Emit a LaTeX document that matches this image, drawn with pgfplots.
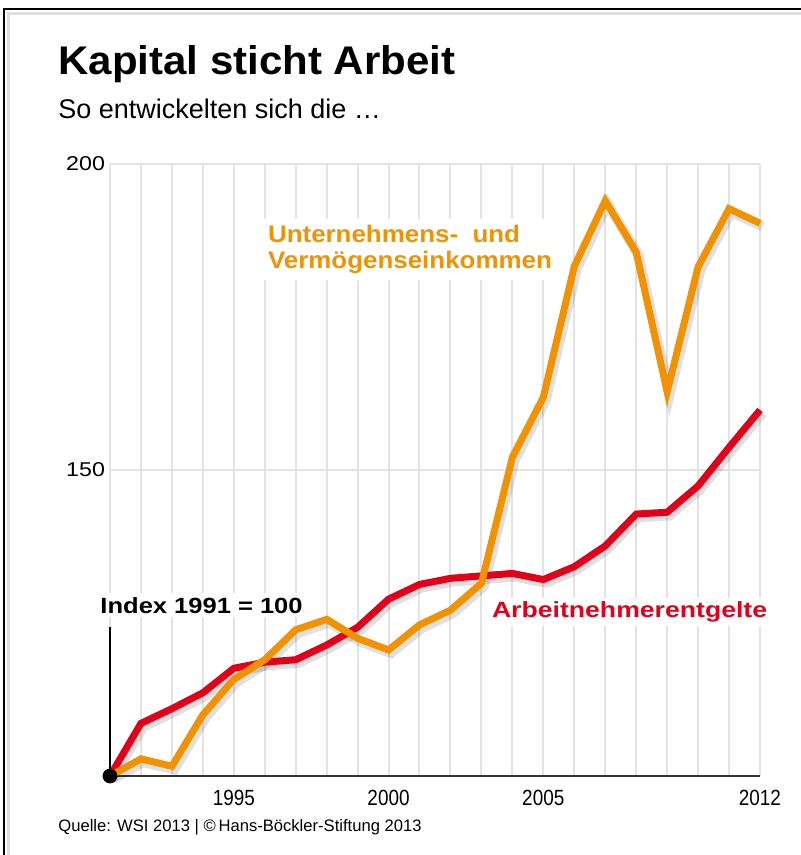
\documentclass[border=0pt]{standalone}
\usepackage{pgfplots}
\pgfplotsset{compat=1.18}
\usepackage{fontspec}
\setmainfont{Liberation Sans}
\newfontfamily\titlefont[FakeStretch=1.05]{Liberation Sans}
\newfontfamily\condfont[FakeStretch=0.86]{Liberation Sans}
\newfontfamily\widefont[FakeStretch=1.16]{Liberation Sans}
\newfontfamily\widerfont[FakeStretch=1.21]{Liberation Sans}
\newfontfamily\medfont[FakeStretch=1.08]{Liberation Sans}
\definecolor{wsiorange}{HTML}{F39200}
\definecolor{wsired}{HTML}{E2001A}
\definecolor{gridgray}{HTML}{E3E3E3}
\begin{document}
\begin{tikzpicture}
\useasboundingbox (-55pt,-39.5pt) rectangle (345.5pt,388pt);
\fill[white] (-55pt,-39.5pt) rectangle (345.5pt,388pt);
\draw[gray!25, line width=1.5pt] (-50.5pt,-39.5pt) -- (-50.5pt,381pt) -- (345.5pt,381pt);
\draw[black, line width=1pt] (-53pt,-39.5pt) -- (-53pt,383.5pt) -- (345.5pt,383.5pt);
\begin{axis}[
  at={(0,0)}, anchor=south west,
  scale only axis, width=325pt, height=306pt,
  xmin=1991, xmax=2012, ymin=100, ymax=200,
  axis line style={draw=none},
  xtick={1991,...,2012},
  xticklabels={,,,,1995,,,,,2000,,,,,2005,,,,,,,2012},
  ytick={150,200},
  major tick length=0pt,
  xmajorgrids, ymajorgrids,
  grid style={gridgray, line width=1pt},
  xticklabel style={font=\condfont\fontsize{11}{13}\selectfont, yshift=-3.3pt},
  yticklabel style={font=\widefont\fontsize{10}{12}\selectfont, xshift=1pt},
  /pgf/number format/assume math mode=true,
  /pgf/number format/1000 sep={},
  clip=false,
]
\draw[black!80, line width=1pt] (axis cs:1991,100) -- (axis cs:2012,100);
\draw[black, line width=0.8pt] (axis cs:1991,100) -- (axis cs:1991,124.3);
\node[fill=white, inner sep=2pt, anchor=west, font=\widefont\bfseries\fontsize{11}{13}\selectfont] at (axis cs:1990.55,127.9) {Index 1991 = 100};
\node[fill=white, inner sep=3pt, anchor=west, align=left, font=\medfont\bfseries\fontsize{12}{13}\selectfont, text=wsiorange] at (axis cs:1995.9,186) {Unternehmens-\ \ und\\Vermögenseinkommen};
\node[fill=white, inner sep=2pt, anchor=west, font=\widerfont\bfseries\fontsize{11}{13}\selectfont, text=wsired] at (axis cs:2003.2,126.8) {Arbeitnehmerentgelte};
% shadows
\addplot[black, opacity=0.12, line width=5pt, xshift=1.2pt, yshift=-1.6pt] coordinates {
(1991,100) (1992,108.6) (1993,111) (1994,113.6) (1995,117.6) (1996,118.6) (1997,119) (1998,121.4) (1999,124.3) (2000,128.9) (2001,131.3) (2002,132.3) (2003,132.7) (2004,133.1) (2005,132.1) (2006,134.2) (2007,137.6) (2008,142.8) (2009,143.1) (2010,147.4) (2011,153.7) (2012,159.8)};
\addplot[black, opacity=0.12, line width=5pt, xshift=1.2pt, yshift=-1.6pt] coordinates {
(1991,100) (1992,102.8) (1993,101.6) (1994,110) (1995,115.8) (1996,119) (1997,123.9) (1998,125.6) (1999,122.5) (2000,120.6) (2001,124.7) (2002,127.1) (2003,131.5) (2004,152.1) (2005,161.9) (2006,183.3) (2007,194) (2008,185.6) (2009,162.8) (2010,183.2) (2011,192.7) (2012,190.3)};
% Arbeitnehmerentgelte
\addplot[wsired, line width=3.5pt] coordinates {
(1991,100) (1992,108.6) (1993,111) (1994,113.6) (1995,117.6) (1996,118.6) (1997,119) (1998,121.4) (1999,124.3) (2000,128.9) (2001,131.3) (2002,132.3) (2003,132.7) (2004,133.1) (2005,132.1) (2006,134.2) (2007,137.6) (2008,142.8) (2009,143.1) (2010,147.4) (2011,153.7) (2012,159.8)};
% Unternehmens- und Vermoegenseinkommen
\addplot[wsiorange, line width=3.5pt] coordinates {
(1991,100) (1992,102.8) (1993,101.6) (1994,110) (1995,115.8) (1996,119) (1997,123.9) (1998,125.6) (1999,122.5) (2000,120.6) (2001,124.7) (2002,127.1) (2003,131.5) (2004,152.1) (2005,161.9) (2006,183.3) (2007,194) (2008,185.6) (2009,162.8) (2010,183.2) (2011,192.7) (2012,190.3)};
\addplot[only marks, mark=*, mark size=3.5pt, black] coordinates {(1991,100)};
\end{axis}
\node[anchor=base west, inner sep=0pt] at (-26pt,350.5pt) {\titlefont\bfseries\fontsize{20}{24}\selectfont Kapital sticht Arbeit};
\node[anchor=base west, inner sep=0pt] at (-26pt,328.5pt) {\fontsize{13.5}{16}\selectfont So entwickelten sich die \dots};
\node[anchor=base west, inner sep=0pt] at (-26pt,-27.5pt) {\fontsize{8.3}{10}\selectfont Quelle: WSI 2013 | \textcopyright\,Hans-Böckler-Stiftung 2013};
\end{tikzpicture}
\end{document}
